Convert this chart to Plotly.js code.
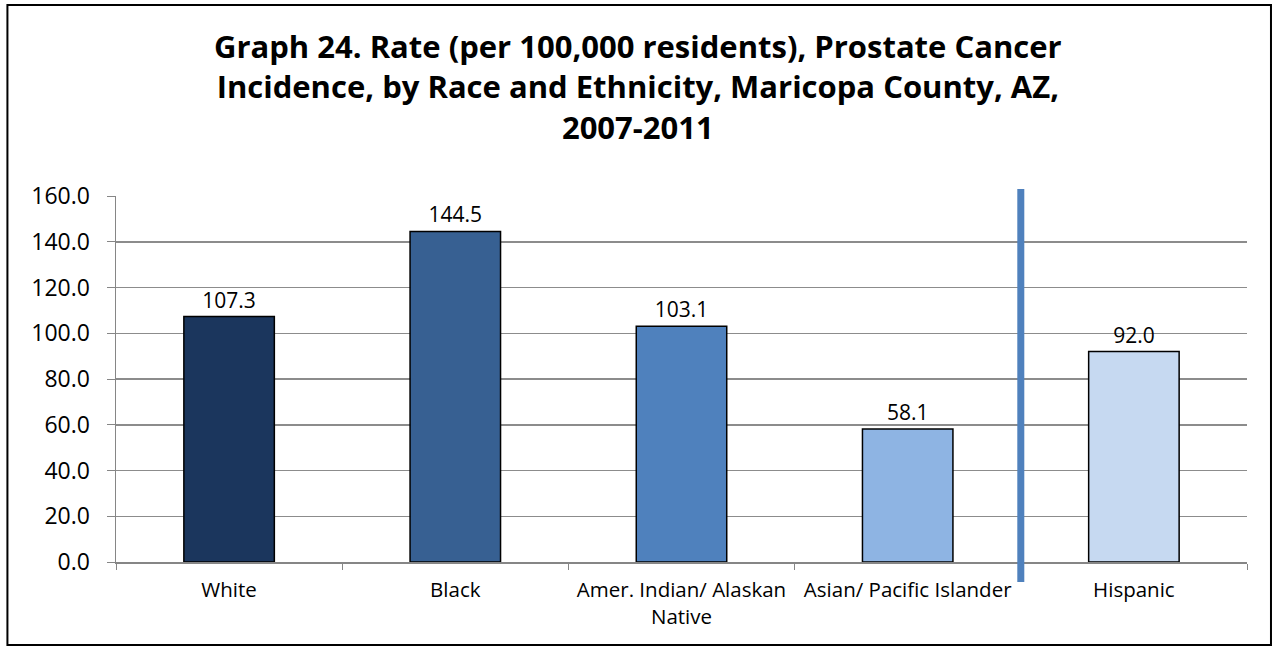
<!DOCTYPE html>
<html>
<head>
<meta charset="utf-8">
<script src="https://cdn.plot.ly/plotly-3.0.1.min.js"></script>
<style>
html,body{margin:0;padding:0;background:#fff;}
#chart{width:1276px;height:648px;}
</style>
</head>
<body>
<div id="chart"></div>
<script>
const categories = ["White", "Black", "Amer. Indian/ Alaskan<br>Native", "Asian/ Pacific Islander", "Hispanic"];
const rates = [107.3, 144.5, 103.1, 58.1, 92.0];
const barColors = ["#1B365D", "#376092", "#4F81BD", "#8EB4E3", "#C6D9F1"];
const yTicks = [0, 20, 40, 60, 80, 100, 120, 140, 160];
const titleText = "Graph 24. Rate (per 100,000 residents), Prostate Cancer<br>Incidence, by Race and Ethnicity, Maricopa County, AZ,<br>2007-2011";

const trace = {
  type: "bar",
  x: categories,
  y: rates,
  marker: {color: barColors, line: {color: "#000000", width: 1.5}},
  width: 0.4,
  text: rates.map(v => v.toFixed(1)),
  textposition: "outside",
  cliponaxis: false,
  textfont: {family: "Open Sans, sans-serif", size: 21, color: "#000"},
  hoverinfo: "none"
};

const layout = {
  width: 1276, height: 648,
  margin: {l: 116, r: 29, t: 196, b: 86},
  paper_bgcolor: "#fff", plot_bgcolor: "#fff",
  showlegend: false,
  xaxis: {
    type: "category",
    tickson: "boundaries",
    ticks: "outside", ticklen: 6, tickcolor: "#868686",
    showline: true, linecolor: "#868686", linewidth: 1.5,
    showgrid: false,
    ticklabelstandoff: 9,
    tickfont: {family: "Open Sans, sans-serif", size: 20.5, color: "#000"},
    fixedrange: true
  },
  yaxis: {
    range: [0, 160],
    tickvals: yTicks,
    ticktext: yTicks.map(v => v.toFixed(1)),
    ticks: "outside", ticklen: 8, tickcolor: "#868686",
    showline: true, linecolor: "#868686", linewidth: 1.5,
    showgrid: true, gridcolor: "#8C8C8C", gridwidth: 1.5,
    zeroline: false,
    ticklabelstandoff: 12,
    tickfont: {family: "Open Sans, sans-serif", size: 23, color: "#000"},
    fixedrange: true
  },
  annotations: [
    {text: titleText, xref: "paper", yref: "paper", x: 0.4615, y: 1.472,
     xanchor: "center", yanchor: "top", showarrow: false, align: "center",
     font: {family: "Open Sans, sans-serif", size: 31, color: "#000", weight: "bold"}}
  ],
  shapes: [
    {type: "rect", xref: "paper", yref: "paper", x0: -0.0960, x1: 1.0212, y0: -0.2268, y1: 1.5219,
     line: {color: "#000", width: 2}, fillcolor: "rgba(0,0,0,0)", layer: "above"},
    {type: "line", xref: "x", yref: "paper", x0: 3.5, x1: 3.5, y0: -0.0546, y1: 1.019,
     line: {color: "#4F81BD", width: 7}, layer: "above"}
  ]
};

Plotly.newPlot("chart", [trace], layout, {displayModeBar: false, staticPlot: true});
</script>
</body>
</html>
